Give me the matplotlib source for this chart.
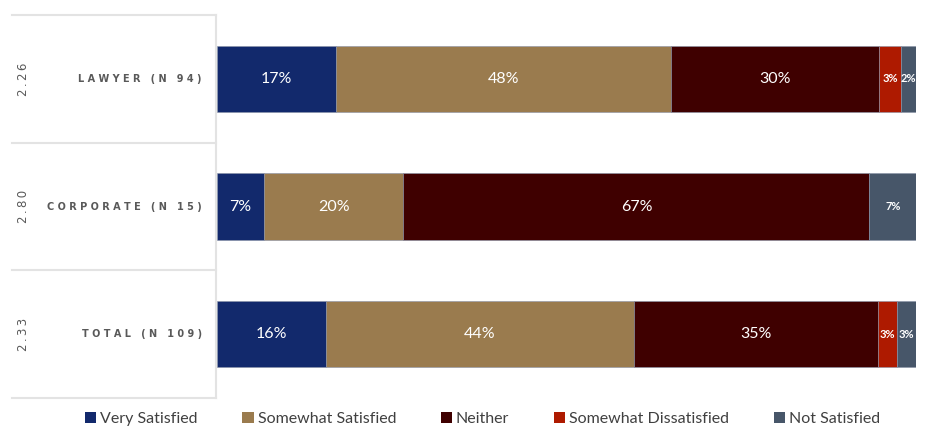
import numpy as np
import matplotlib.pyplot as plt
from matplotlib.transforms import blended_transform_factory

groups = ["LAWYER (N 94)", "CORPORATE (N 15)", "TOTAL (N 109)"]
scores = ["2.26", "2.80", "2.33"]
categories = ["Very Satisfied", "Somewhat Satisfied", "Neither",
              "Somewhat Dissatisfied", "Not Satisfied"]
# percent of respondents per group, same order as categories
lawyer = [17.0, 47.9, 29.8, 3.2, 2.1]
corporate = [6.67, 20.0, 66.67, 0.0, 6.67]
total = [15.6, 44.0, 34.9, 2.75, 2.75]
colors = ["#12296c", "#9a7b4e", "#3f0000", "#ae1a00", "#475669"]


def spaced(s, sep=" "):
    return sep.join(s)


data = np.array([lawyer, corporate, total])

fig = plt.figure(figsize=(9.28, 4.34), dpi=100)
ax = fig.add_axes([217 / 928, 1 - 398 / 434, 699 / 928, 383 / 434])

left = np.zeros(len(groups))
y = np.arange(len(groups))
for j, cat in enumerate(categories):
    vals = data[:, j]
    ax.barh(y, vals, left=left, height=0.52, color=colors[j],
            edgecolor="#8a93a8", linewidth=0.4, label=cat)
    # the two dissatisfied columns get smaller bold labels
    small = j >= 3
    for i, v in enumerate(vals):
        if v <= 0:
            continue
        ax.text(left[i] + v / 2, y[i], f"{v:.0f}%", ha="center", va="center",
                color="white", family="Lato",
                fontsize=8 if small else 11.5,
                fontweight="bold" if small else "normal")
    left += vals

ax.set_xlim(0, 100)
ax.set_ylim(2.5, -0.5)
ax.axis("off")

# left-hand table with scores and group names
tr = blended_transform_factory(fig.transFigure, ax.transData)
x0, x1 = 12 / 928, 216 / 928
for yl in [-0.5, 0.5, 1.5, 2.5]:
    ax.plot([x0, x1], [yl, yl], transform=tr, color="#e3e3e3", lw=1.5,
            clip_on=False)
ax.plot([x1, x1], [-0.5, 2.5], transform=tr, color="#e3e3e3", lw=1.5,
        clip_on=False)
for i in range(len(groups)):
    ax.text(24 / 928, y[i], spaced(scores[i], "\u2009"), transform=tr,
            rotation=90, ha="center", va="center", fontsize=8.5,
            color="#595959", family="DejaVu Sans")
    ax.text(202 / 928, y[i], spaced(groups[i]), transform=tr, ha="right",
            va="center", fontsize=7, color="#595959", fontweight="bold",
            family="DejaVu Sans")

leg = fig.legend(loc="lower center", bbox_to_anchor=(0.52, -0.015), ncol=5,
                 frameon=False, prop={"family": "Lato", "size": 11.5},
                 handlelength=0.7, handleheight=0.7, handletextpad=0.25,
                 columnspacing=2.8)
for t in leg.get_texts():
    t.set_color("#404040")
for h in leg.legend_handles:
    h.set_edgecolor("none")

fig.savefig("out.png", dpi=100)
